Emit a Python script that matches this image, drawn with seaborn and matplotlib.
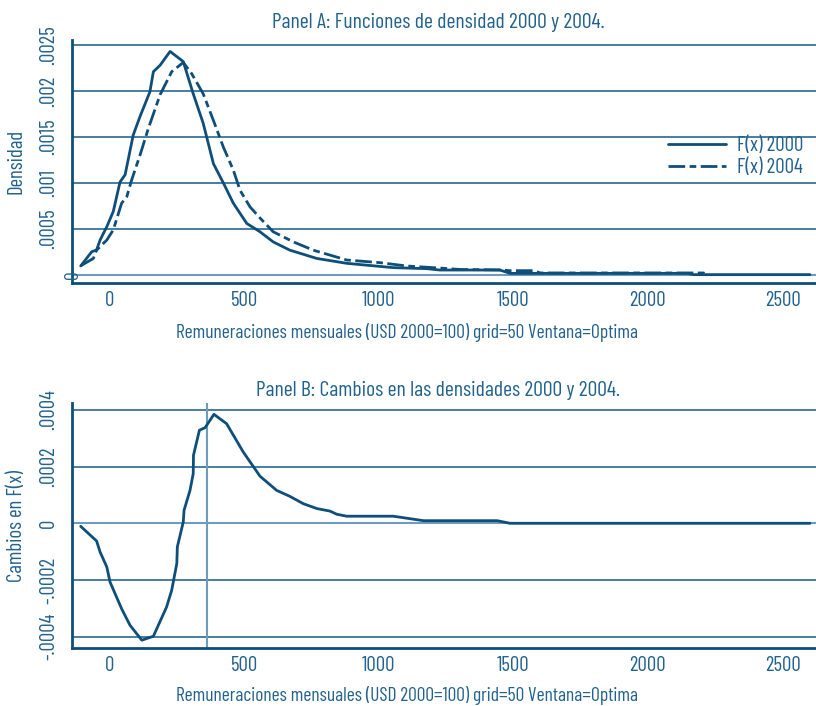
import numpy as np
import pandas as pd
import matplotlib
matplotlib.use("Agg")
import matplotlib.pyplot as plt
import seaborn as sns
from matplotlib import font_manager as fm

# ---------------- data ----------------
x2000 = [-107, -66, -48, -35, -10, 14, 39, 58, 88, 113, 150, 163, 188, 225, 274, 311, 348,
         386, 423, 460, 510, 559, 608, 670, 770, 881, 1054, 1178, 1227, 1450, 1488, 2145,
         2170, 2602]
d2000 = [0.000098, 0.000253, 0.000272, 0.00038, 0.000525, 0.00069, 0.00101, 0.00109,
         0.00152, 0.00172, 0.00199, 0.00221, 0.00228, 0.00243, 0.00232, 0.00197, 0.00165,
         0.00121, 0.00100, 0.00078, 0.00056, 0.00047, 0.00036, 0.00027, 0.00018, 0.000127,
         0.00008, 0.000069, 0.000054, 0.000054, 0.000018, 0.000018, 0.000004, 0.000004]

x2004 = [-107, -60, -48, -10, 14, 45, 64, 82, 113, 144, 188, 231, 274, 305, 348, 386, 423,
         460, 485, 522, 559, 608, 683, 757, 881, 1005, 1104, 1240, 1302, 1450, 1488, 1576,
         1600, 2145, 2207, 2212]
d2004 = [0.0001, 0.00018, 0.00027, 0.00038, 0.00049, 0.00078, 0.00085, 0.00103, 0.0013,
         0.00159, 0.00196, 0.00221, 0.00231, 0.00219, 0.00197, 0.00168, 0.00139, 0.00114,
         0.00092, 0.00074, 0.00062, 0.00047, 0.00036, 0.00027, 0.000163, 0.000134, 0.000098,
         0.000073, 0.00006, 0.000055, 0.000047, 0.000047, 0.000022, 0.000022, 0.000022,
         0.000012]

xdiff = [-107, -48, -35, -10, 2, 45, 76, 120, 163, 212, 231, 250, 252, 274, 277, 299, 311,
         312, 334, 355, 388, 435, 497, 559, 621, 670, 720, 770, 819, 844, 881, 1054, 1104,
         1166, 1440, 1488, 2602]
ddiff = [-0.0000106, -0.0000623, -0.000101, -0.000154, -0.000207, -0.000301, -0.000359,
         -0.000412, -0.000398, -0.000295, -0.000236, -0.000142, -0.000083, 0.0000046,
         0.000046, 0.000116, 0.000175, 0.00024, 0.000328, 0.000337, 0.000384, 0.000351,
         0.000251, 0.000166, 0.000116, 0.000095, 0.000069, 0.000052, 0.000043, 0.000032,
         0.000025, 0.000025, 0.000018, 0.0000092, 0.0000092, 0.0, 0.0]

xticks = [0, 500, 1000, 1500, 2000, 2500]
yticksA = [0, 0.0005, 0.001, 0.0015, 0.002, 0.0025]
yticklabelsA = ["", ".0005", ".001", ".0015", ".002", ".0025"]
yticksB = [-0.0004, -0.0002, 0, 0.0002, 0.0004]
yticklabelsB = ["-.0004", "-.0002", "0", ".0002", ".0004"]
vline_x = 362

titleA = "Panel A: Funciones de densidad 2000 y 2004."
titleB = "Panel B: Cambios en las densidades 2000 y 2004."
xlabel = "Remuneraciones mensuales (USD 2000=100) grid=50 Ventana=Optima"
ylabelA = "Densidad"
ylabelB = "Cambios en F(x)"
legend_labels = ["F(x) 2000", "F(x) 2004"]

# ---------------- style ----------------
sns.set_style("white")
names = {f.name for f in fm.fontManager.ttflist}
fam = "DejaVu Sans"
for cand in ["Barlow Condensed", "Roboto Condensed", "Archivo Narrow", "PT Sans Narrow",
             "Encode Sans Condensed", "Asap Condensed", "Open Sans Condensed",
             "Liberation Sans Narrow", "Pathway Gothic One"]:
    if cand in names:
        fam = cand
        break
plt.rcParams['font.family'] = [fam, 'DejaVu Sans']

LINE = "#0d4f7a"
TEXT = "#22628d"
GRID = "#2a6892"
LIGHT = "#6d9dbe"
FS = 15

fig = plt.figure(figsize=(8.16, 7.06), dpi=100)
W, H = 816, 706
axA = fig.add_axes([72 / W, 1 - 283 / H, 744 / W, 243 / H])
axB = fig.add_axes([72 / W, 1 - 648 / H, 744 / W, 245 / H])

dfA = pd.concat([
    pd.DataFrame({"x": x2000, "y": d2000, "serie": legend_labels[0]}),
    pd.DataFrame({"x": x2004, "y": d2004, "serie": legend_labels[1]}),
])
dfB = pd.DataFrame({"x": xdiff, "y": ddiff})

xl = ((72 - 109.5) / 0.2692, (816 - 109.5) / 0.2692)


def style_axes(ax, yt, ytl, ylim, ylabel, title, title_y, xlab_y):
    ax.set_xlim(*xl)
    ax.set_ylim(*ylim)
    for s in ["top", "right"]:
        ax.spines[s].set_visible(False)
    for s in ["left", "bottom"]:
        ax.spines[s].set_color(LINE)
        ax.spines[s].set_linewidth(2.0)
    ax.set_xticks(xticks)
    ax.set_xticklabels([str(t) for t in xticks])
    ax.set_yticks(yt)
    ax.set_yticklabels(ytl)
    ax.tick_params(axis="both", colors=LINE, labelcolor=TEXT, labelsize=FS,
                   length=4, width=1.5, direction="out")
    ax.tick_params(axis="x", pad=1.5)
    ax.tick_params(axis="y", pad=6)
    for lab in ax.get_yticklabels():
        lab.set_rotation(90)
        lab.set_va("center")
        lab.set_ha("right")
    ax.set_ylabel(ylabel, fontsize=FS, color=TEXT)
    ax.yaxis.set_label_coords(-(72 - 26) / 744, 0.5)
    ax.set_xlabel(xlabel, fontsize=14, color=TEXT)
    ax.xaxis.set_label_coords((407 - 72) / 744, xlab_y)
    ax.set_title(title, fontsize=15.6, color=TEXT, pad=0, x=(438 - 72) / 744,
                 y=title_y, va="center")
    ax.grid(False)


# Panel A
for yv in yticksA[1:]:
    axA.axhline(yv, color=GRID, lw=1.2, zorder=1)
axA.axhline(0, color=LIGHT, lw=1.5, zorder=1)
sns.lineplot(data=dfA, x="x", y="y", hue="serie", style="serie",
             palette=[LINE, LINE], dashes=[(None, None), (6, 1.6, 2.4, 1.6)],
             linewidth=2.0, sort=False, ax=axA, zorder=3, legend=True)
style_axes(axA, yticksA, yticklabelsA, ((275 - 283) / 92000, (275 - 40) / 92000),
           ylabelA, titleA, 1 + (40 - 22) / 243, -(323 - 283) / 243)
axA.text(73, H - 275, "0", rotation=90, ha="center", va="center", fontsize=FS - 1,
         color=TEXT, transform=None)
leg = axA.legend(frameon=False, fontsize=FS, loc="upper right",
                 bbox_to_anchor=(1.0, 0.655), handlelength=2.75, labelspacing=0.15,
                 handletextpad=0.55, borderaxespad=0.2)
for t in leg.get_texts():
    t.set_color(TEXT)

# Panel B
for yv in yticksB:
    if yv != 0:
        axB.axhline(yv, color=GRID, lw=1.2, zorder=1)
axB.axhline(0, color=LIGHT, lw=1.5, zorder=1)
axB.axvline(vline_x, color=LIGHT, lw=1.5, zorder=1)
sns.lineplot(data=dfB, x="x", y="y", color=LINE, linewidth=2.0, sort=False, ax=axB,
             zorder=3)
style_axes(axB, yticksB, yticklabelsB, (-(648 - 523.3) / 283750, (523.3 - 403) / 283750),
           ylabelB, titleB, 1 + (403 - 390) / 245, -(686 - 648) / 245)

fig.savefig("out.png", dpi=100)
